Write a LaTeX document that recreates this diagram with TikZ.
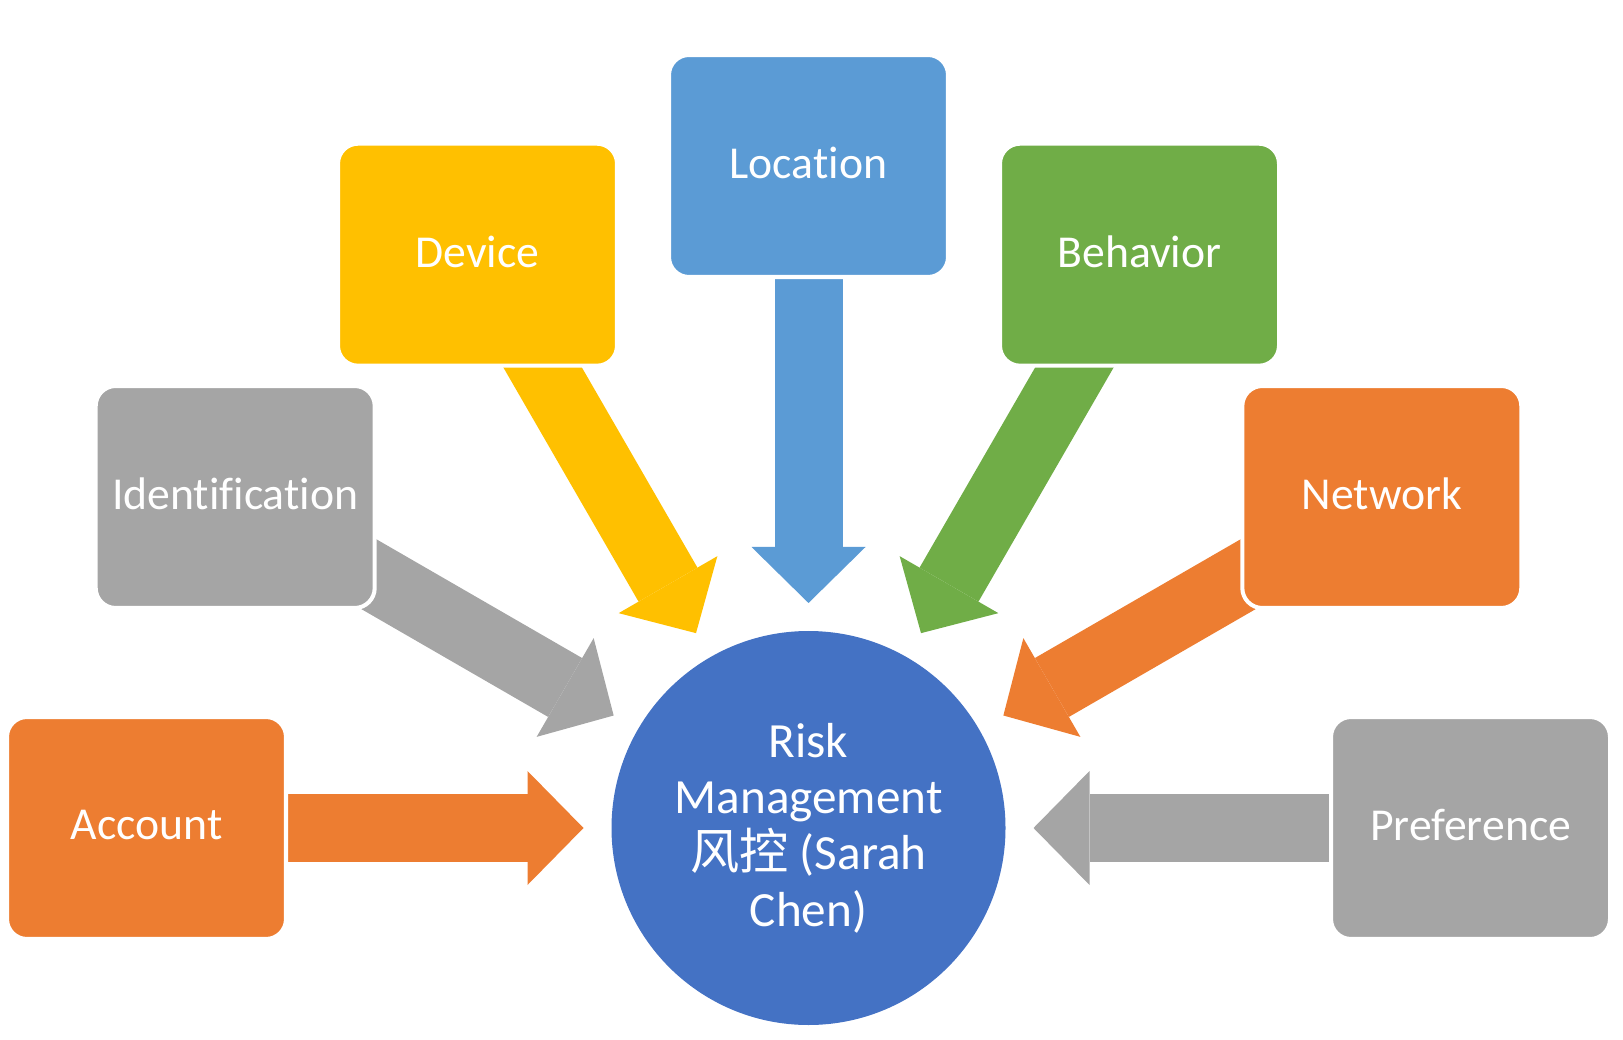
\documentclass[tikz,border=0pt]{standalone}
\usepackage{fontspec}
\setmainfont{Carlito}[Ligatures=NoCommon]
\newfontfamily\cjk{Noto Sans CJK SC}
\usepackage{tikz}
\usetikzlibrary{arrows.meta, backgrounds}
\definecolor{orng}{RGB}{237,125,49}
\definecolor{grey}{RGB}{165,165,165}
\definecolor{gold}{RGB}{255,192,0}
\definecolor{sky}{RGB}{91,155,213}
\definecolor{leaf}{RGB}{112,173,71}
\definecolor{royal}{RGB}{68,114,196}

\begin{document}
\begin{tikzpicture}[
  every node/.style={text=white, font=\fontsize{13}{16}\selectfont},
  factor/.style={draw=white, line width=1.15pt, rounded corners=0.2cm, minimum width=2.79cm, minimum height=2.22cm, inner sep=0pt, text depth=0.06cm},
  feed/.style={line width=0.68cm, shorten >=2.25cm, -{Triangle[length=0.56cm, width=1.14cm, line width=0pt]}}
]
  \useasboundingbox (0,0) rectangle (16.23,10.39);
  \node[circle, fill=royal, minimum size=3.94cm, inner sep=0pt, align=center, font=\fontsize{14}{16}\selectfont] (risk) at (8.085,2.11) {Risk\\Management\\{\cjk 风控} (Sarah\\Chen)};

  \node[factor, fill=orng] (account) at (1.465,2.11) {Account};
  \node[factor, fill=grey] (ident) at (2.352,5.42) {Identification};
  \node[factor, fill=gold] (device) at (4.775,7.843) {Device};
  \node[factor, fill=sky] (location) at (8.085,8.73) {Location};
  \node[factor, fill=leaf] (behavior) at (11.395,7.843) {Behavior};
  \node[factor, fill=orng] (network) at (13.818,5.42) {Network};
  \node[factor, fill=grey] (pref) at (14.705,2.11) {Preference};

  \begin{scope}[on background layer]
    \draw[feed, orng] (account.center) -- (risk.center);
    \draw[feed, grey] (ident.center) -- (risk.center);
    \draw[feed, gold] (device.center) -- (risk.center);
    \draw[feed, sky] (location.center) -- (risk.center);
    \draw[feed, leaf] (behavior.center) -- (risk.center);
    \draw[feed, orng] (network.center) -- (risk.center);
    \draw[feed, grey] (pref.center) -- (risk.center);
  \end{scope}
\end{tikzpicture}
\end{document}
